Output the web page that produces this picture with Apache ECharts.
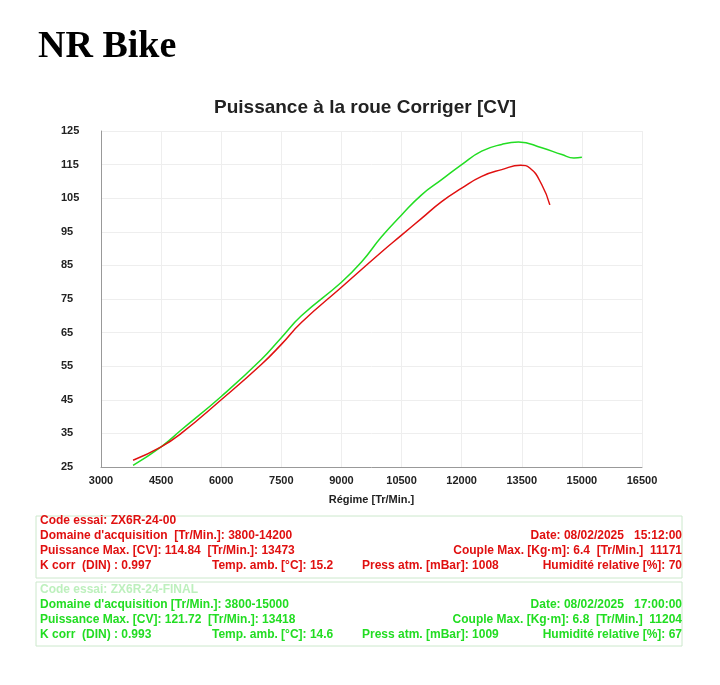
<!DOCTYPE html><html><head><meta charset="utf-8"><script src="https://cdn.jsdelivr.net/npm/echarts@6/dist/echarts.min.js"></script>
<style>body{margin:0;background:#fff}#c{width:720px;height:685px}</style></head><body><div id="c"></div><script>
const redRpm=[3800,4500,5000,6000,7000,7500,8000,9000,10000,10500,11000,11500,12000,12500,13000,13473,13700,14000,14200];
const redCv=[27,31,35,45,55.5,61.5,68,78.5,89,94,99,104,108,111.5,113.5,114.8,114,109,103];
const greenRpm=[3800,4500,5000,6000,7000,7500,8000,9000,9500,10000,10500,11000,11500,12000,12500,13000,13418,14000,14500,14800,15000];
const greenCv=[25.5,31,36,46,57,63.5,70,80,86,93.5,100,106,110.5,115,119,121,121.7,120,118,117,117.2];
const xTicks=[3000,4500,6000,7500,9000,10500,12000,13500,15000,16500];
const yTicks=[25,35,45,55,65,75,85,95,105,115,125];
const R='#e01010',G='#22dd22';
const txt=(x,y,t,c,align)=>({type:'text',left:align==='right'?undefined:x,right:align==='right'?x:undefined,top:y,style:{text:t,fill:c,font:'bold 12px Liberation Sans, Arial'}});
const ch=echarts.init(document.getElementById('c'));
ch.setOption({backgroundColor:'#fff',animation:false,
title:{text:'Puissance à la roue Corriger [CV]',left:360,top:93,textAlign:'center',textStyle:{fontSize:19,fontWeight:'bold',color:'#222',fontFamily:'Liberation Sans'}},
grid:{left:101,right:78,top:131,bottom:218},
xAxis:{type:'value',min:3000,max:16500,interval:1500,name:'Régime [Tr/Min.]',nameLocation:'middle',nameGap:27,nameTextStyle:{fontSize:11,fontWeight:'bold',color:'#222'},
axisLine:{lineStyle:{color:'#999'}},axisTick:{show:false},axisLabel:{fontSize:11,fontWeight:'bold',color:'#222',formatter:v=>xTicks.includes(v)?v:''},splitLine:{lineStyle:{color:'#eee'}}},
yAxis:{type:'value',min:25,max:125,interval:10,axisLine:{show:true,lineStyle:{color:'#999'}},axisTick:{show:false},axisLabel:{fontSize:11,fontWeight:'bold',color:'#222',margin:40,align:'left',formatter:v=>yTicks.includes(v)?v:''},splitLine:{lineStyle:{color:'#eee'}}},
series:[
{type:'line',data:greenRpm.map((x,i)=>[x,greenCv[i]]),smooth:true,showSymbol:false,lineStyle:{color:G,width:1.5}},
{type:'line',data:redRpm.map((x,i)=>[x,redCv[i]]),smooth:true,showSymbol:false,lineStyle:{color:R,width:1.5}}],
graphic:[
{type:'text',left:38,top:28,style:{text:'NR Bike',fill:'#000',font:'bold 38px Liberation Serif'}},
{type:'rect',shape:{x:36,y:516,width:646,height:62},style:{fill:'none',stroke:'#cce8cc',lineWidth:1}},
{type:'rect',shape:{x:36,y:582,width:646,height:64},style:{fill:'none',stroke:'#cce8cc',lineWidth:1}},
txt(40,515,'Code essai: ZX6R-24-00',R),
txt(40,530,"Domaine d'acquisition  [Tr/Min.]: 3800-14200",R),
txt(40,545,'Puissance Max. [CV]: 114.84  [Tr/Min.]: 13473',R),
txt(40,560,'K corr  (DIN) : 0.997',R),
txt(212,560,'Temp. amb. [°C]: 15.2',R),
txt(362,560,'Press atm. [mBar]: 1008',R),
txt(38,530,'Date: 08/02/2025   15:12:00',R,'right'),
txt(38,545,'Couple Max. [Kg·m]: 6.4  [Tr/Min.]  11171',R,'right'),
txt(38,560,'Humidité relative [%]: 70',R,'right'),
txt(40,584,'Code essai: ZX6R-24-FINAL','#bdf0bd'),
txt(40,599,"Domaine d'acquisition [Tr/Min.]: 3800-15000",G),
txt(40,614,'Puissance Max. [CV]: 121.72  [Tr/Min.]: 13418',G),
txt(40,629,'K corr  (DIN) : 0.993',G),
txt(212,629,'Temp. amb. [°C]: 14.6',G),
txt(362,629,'Press atm. [mBar]: 1009',G),
txt(38,599,'Date: 08/02/2025   17:00:00',G,'right'),
txt(38,614,'Couple Max. [Kg·m]: 6.8  [Tr/Min.]  11204',G,'right'),
txt(38,629,'Humidité relative [%]: 67',G,'right')
]});
</script></body></html>
